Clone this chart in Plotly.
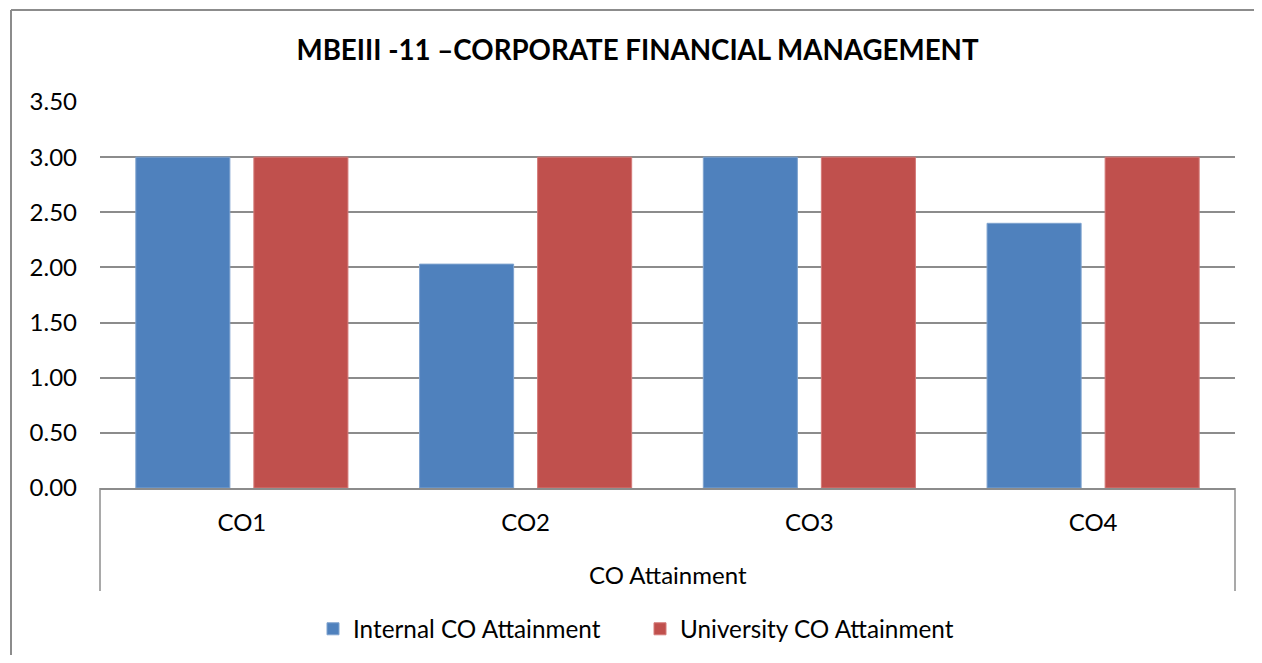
import plotly.graph_objects as go

categories = ["CO1", "CO2", "CO3", "CO4"]
internal = [3.00, 2.03, 3.00, 2.40]
university = [3.00, 3.00, 3.00, 3.00]
y_ticks = [0, 0.5, 1.0, 1.5, 2.0, 2.5, 3.0, 3.5]
y_ticktext = ["0.00", "0.50", "1.00", "1.50", "2.00", "2.50", "3.00", "3.50"]
title_text = "MBEIII -11 \u2013CORPORATE FINANCIAL MANAGEMENT"
axis_group = "CO Attainment"

FONT = "Lato"
GRID = "#8c8c8c"
OFF = 8  # page body margin offset

fig = go.Figure()
fig.add_trace(go.Bar(x=categories, y=internal, name="Internal CO Attainment",
                     marker=dict(color="#4F81BD", line=dict(color="#7fa3cf", width=1))))
fig.add_trace(go.Bar(x=categories, y=university, name="University CO Attainment",
                     marker=dict(color="#C0504D", line=dict(color="#d47a78", width=1))))

# target screen positions, converted to figure coords
L, R, T, B = 100 - OFF, 1235 - OFF, 102 - OFF, 488 - OFF
W, H = 1262 - 2 * OFF, 663 - 2 * OFF
ph = B - T
pw = R - L

def py(p):
    return (B - (p - OFF)) / ph

def px(p):
    return ((p - OFF) - L) / pw

fig.update_layout(
    width=W, height=H,
    margin=dict(l=L, r=W - R, t=T, b=H - B, pad=0),
    paper_bgcolor="white", plot_bgcolor="white",
    barmode="group", bargap=0.168, bargroupgap=0.203,
    font=dict(family=FONT, color="black", size=24),
    title=dict(text="<b>" + title_text + "</b>", x=(637.5 - OFF) / W, xanchor="center",
               y=1 - (50 - OFF) / H, yanchor="middle", yref="container",
               font=dict(family=FONT, size=27.7, color="black")),
    showlegend=True,
    legend=dict(orientation="h", x=px(313), xanchor="left",
                yref="container", y=1 - (629 - OFF) / H, yanchor="middle",
                font=dict(family=FONT, size=24.3), itemwidth=30, entrywidth=282,
                bgcolor="rgba(0,0,0,0)"),
    xaxis=dict(type="category", showgrid=False, showline=True, linecolor=GRID, linewidth=1.5,
               ticks="", ticklabelstandoff=12, tickfont=dict(family=FONT, size=24),
               fixedrange=True),
    yaxis=dict(range=[0, 3.5], tickvals=y_ticks, ticktext=y_ticktext,
               showgrid=True, gridcolor=GRID, gridwidth=1.5, zeroline=False,
               showline=False, ticks="", ticklabelstandoff=22,
               tickfont=dict(family=FONT, size=24), fixedrange=True),
)

# category group label
fig.add_annotation(text=axis_group, xref="x domain", yref="paper", x=0.5, y=py(574),
                   showarrow=False, xanchor="center", yanchor="middle",
                   font=dict(family=FONT, size=24, color="black"))

# multi-level axis dividers
for xd in (0, 1):
    fig.add_shape(type="line", xref="x domain", yref="paper", x0=xd, x1=xd,
                  y0=0, y1=py(591), line=dict(color=GRID, width=1.5))

# chart border (top and left edges; right/bottom lie outside the view)
fig.add_shape(type="line", xref="paper", yref="paper",
              x0=px(11), x1=px(W + OFF), y0=py(10), y1=py(10),
              line=dict(color="#8c8c8c", width=2), layer="below")
fig.add_shape(type="line", xref="paper", yref="paper",
              x0=px(11), x1=px(11), y0=py(10), y1=py(H + OFF),
              line=dict(color="#8c8c8c", width=2), layer="below")

fig.write_html("out.html")
